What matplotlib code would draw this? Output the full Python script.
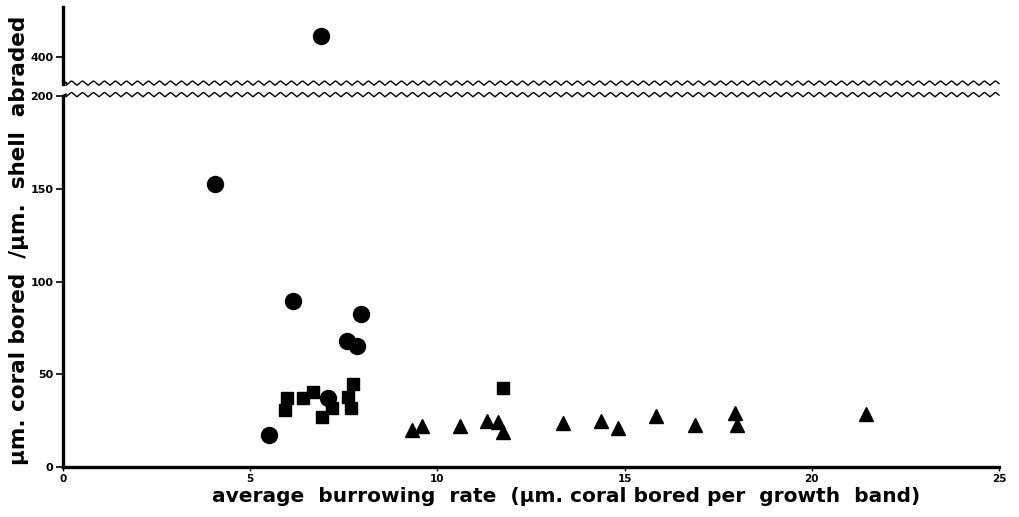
import numpy as np
import matplotlib
matplotlib.use("Agg")
import matplotlib.pyplot as plt
from matplotlib.lines import Line2D

# data
circ_x = [4.06, 6.14, 7.96, 7.59, 7.85, 7.08, 5.50]
circ_y = [152.6, 89.5, 82.5, 67.9, 65.2, 37.2, 17.3]
outlier_x = [6.89]
outlier_y = [411.5]
sq_x = [5.97, 5.93, 6.40, 6.69, 7.18, 6.93, 7.75, 7.62, 7.68, 11.74]
sq_y = [37.4, 30.7, 37.4, 40.3, 32.0, 27.1, 44.7, 37.9, 31.6, 42.7]
tri_x = [9.32, 9.60, 10.60, 11.32, 11.63, 11.74, 13.35, 14.37, 14.83,
         15.84, 16.88, 17.96, 17.99, 21.44]
tri_y = [20.0, 22.1, 22.3, 25.0, 24.4, 18.9, 23.5, 25.0, 21.0,
         27.7, 22.8, 28.9, 22.6, 28.4]

x_ticks = [0, 5, 10, 15, 20, 25]
low_ticks = [0, 50, 100, 150, 200]
up_ticks = [400]

W, H = 1020, 517
fig = plt.figure(figsize=(W / 100, H / 100), dpi=100)

left, right = 63 / W, 999 / W
ax = fig.add_axes([left, 1 - 467 / H, right - left, (467 - 96) / H])
ax_up = fig.add_axes([left, 1 - 84 / H, right - left, (84 - 7) / H])

def style(a):
    for s in ["top", "right"]:
        a.spines[s].set_visible(False)
    a.spines["left"].set_linewidth(2.4)
    a.spines["bottom"].set_linewidth(2.4)
    a.set_xlim(0, 25)
    a.tick_params(axis="y", length=5, width=1.2, pad=2, labelsize=8)
    a.tick_params(axis="x", length=3, width=1.0, pad=2, labelsize=7.5)

ax.set_ylim(0, 200)
ax.set_yticks(low_ticks)
ax.set_xticks(x_ticks)
style(ax)
for lab in ax.get_yticklabels() + ax.get_xticklabels():
    lab.set_fontweight("bold")

ax_up.set_ylim(385.4, 426.9)
ax_up.set_yticks(up_ticks)
ax_up.set_xticks([])
style(ax_up)
ax_up.spines["bottom"].set_visible(False)
for lab in ax_up.get_yticklabels():
    lab.set_fontweight("bold")

ax.plot(circ_x, circ_y, "o", color="black", ms=11.5, clip_on=False)
ax.plot(sq_x, sq_y, "s", color="black", ms=8.5, clip_on=False)
ax.plot(tri_x, tri_y, "^", color="black", ms=9.5, clip_on=False)
ax_up.plot(outlier_x, outlier_y, "o", color="black", ms=11.5, clip_on=False)

# wavy break lines
px = np.arange(66, 1000, 1.0)
period = 11.0
wave = np.abs(((px - 66) / period) % 1 - 0.5) * 2 - 0.5
for base in (83.0, 94.5):
    yy = base + wave * 4.5
    fig.add_artist(Line2D(px / W, 1 - yy / H, color="black", lw=1.0))
# joins to the spines
fig.add_artist(Line2D([63 / W, 66 / W], [1 - 81 / H, 1 - 83 / H], color="black", lw=1.5))
fig.add_artist(Line2D([63 / W, 66 / W], [1 - 96 / H, 1 - 94.5 / H], color="black", lw=1.5))

ax.set_xlabel("average  burrowing  rate  (µm. coral bored per  growth  band)",
              fontsize=14.5, fontweight="bold", labelpad=2)
ax.xaxis.set_label_coords(0.537, -0.055)
fig.text(0.019, 0.535, "µm. coral bored  /µm.  shell  abraded", rotation=90,
         fontsize=15.5, fontweight="bold", ha="center", va="center")

fig.savefig("out.png", dpi=100)
